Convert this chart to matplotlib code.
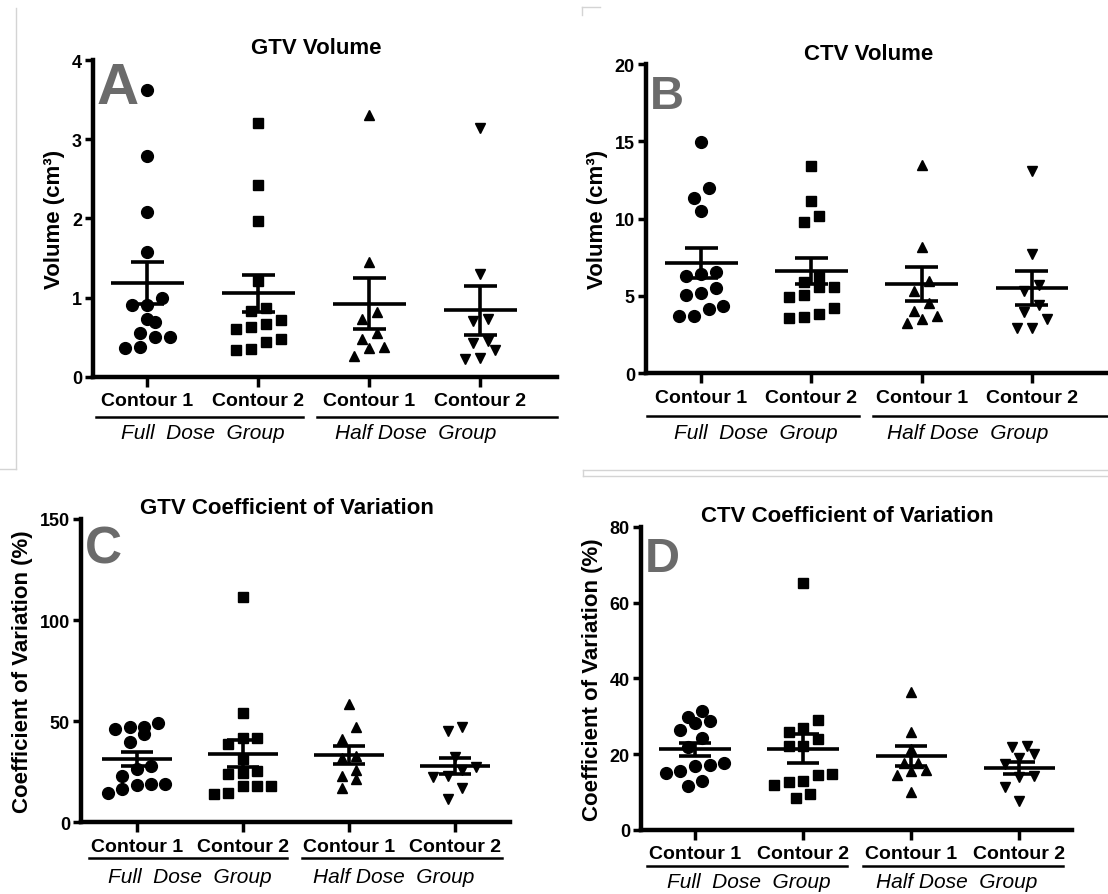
import numpy as np
import matplotlib
matplotlib.use('Agg')
import matplotlib.pyplot as plt
from matplotlib.lines import Line2D
from matplotlib.transforms import blended_transform_factory

plt.rcParams['font.family'] = ['Liberation Sans', 'DejaVu Sans']

W, H = 1108, 895

contours = ['Contour 1', 'Contour 2', 'Contour 1', 'Contour 2']
groups = ['Full  Dose  Group', 'Half Dose  Group']
markers = ['o', 's', '^', 'v']

# GTV volume (cm3): full dose contour 1 / 2, half dose contour 1 / 2
gtv_vol_full_c1 = [3.62, 2.79, 2.08, 1.57, 0.99, 0.91, 0.91, 0.73, 0.69, 0.55, 0.50, 0.50, 0.36, 0.37]
gtv_vol_full_c2 = [3.21, 2.42, 1.97, 1.21, 0.83, 0.87, 0.72, 0.63, 0.60, 0.66, 0.44, 0.47, 0.34, 0.35]
gtv_vol_half_c1 = [3.30, 1.45, 0.82, 0.73, 0.55, 0.47, 0.38, 0.36, 0.26]
gtv_vol_half_c2 = [3.14, 1.30, 0.70, 0.73, 0.45, 0.43, 0.34, 0.22, 0.23]

# CTV volume (cm3)
ctv_vol_full_c1 = [14.94, 11.96, 11.31, 10.47, 6.57, 6.27, 6.42, 5.17, 5.06, 5.50, 4.16, 4.38, 3.73, 3.73]
ctv_vol_full_c2 = [13.43, 11.12, 10.19, 9.81, 6.21, 5.56, 5.09, 4.91, 5.56, 5.88, 4.20, 3.84, 3.56, 3.62]
ctv_vol_half_c1 = [13.49, 8.15, 5.99, 5.34, 4.55, 4.05, 3.69, 3.51, 3.25]
ctv_vol_half_c2 = [13.10, 7.72, 5.34, 5.71, 4.42, 3.99, 3.51, 2.91, 2.91]

# GTV coefficient of variation (%)
gtv_cv_full_c1 = [47.0, 46.2, 49.0, 43.7, 47.0, 39.9, 26.4, 28.0, 22.7, 19.0, 18.6, 16.5, 19.0, 14.3]
gtv_cv_full_c2 = [111.3, 54.1, 41.5, 41.5, 38.7, 31.3, 24.4, 23.9, 25.5, 18.1, 17.8, 18.1, 14.0, 14.3]
gtv_cv_half_c1 = [58.5, 47.0, 41.2, 33.0, 31.6, 25.9, 23.1, 21.4, 17.0]
gtv_cv_half_c2 = [47.0, 45.3, 32.1, 27.2, 25.9, 23.1, 22.3, 16.8, 11.5]

# CTV coefficient of variation (%)
ctv_cv_full_c1 = [31.3, 28.7, 28.2, 29.7, 26.4, 24.2, 21.8, 17.7, 17.2, 17.0, 15.6, 15.0, 13.0, 11.7]
ctv_cv_full_c2 = [65.1, 29.0, 27.0, 25.9, 24.0, 22.1, 22.2, 14.5, 14.8, 13.0, 12.0, 12.6, 9.5, 8.4]
ctv_cv_half_c1 = [36.5, 25.9, 21.4, 17.8, 17.8, 15.6, 15.9, 14.5, 9.9]
ctv_cv_half_c2 = [21.8, 22.2, 20.0, 18.9, 17.4, 14.3, 13.9, 11.3, 7.7]

panels = [
    dict(letter='A', title='GTV Volume', ylabel='Volume (cm³)', ylim=(0, 4), yticks=[0, 1, 2, 3, 4],
         data=[gtv_vol_full_c1, gtv_vol_full_c2, gtv_vol_half_c1, gtv_vol_half_c2],
         box=(93, 61, 557, 377.7), xlim=(-0.49, 3.69), lsize=42, ltop=62,
         lines=[(-0.46, 1.40), (1.53, 3.69)], off=(27, 40, 56), title_y=49),
    dict(letter='B', title='CTV Volume', ylabel='Volume (cm³)', ylim=(0, 20), yticks=[0, 5, 10, 15, 20],
         data=[ctv_vol_full_c1, ctv_vol_full_c2, ctv_vol_half_c1, ctv_vol_half_c2],
         box=(646, 65, 1108, 374.3), xlim=(-0.50, 3.69), lsize=34, ltop=75,
         lines=[(-0.49, 1.43), (1.56, 3.69)], off=(26, 43, 59), title_y=55),
    dict(letter='C', title='GTV Coefficient of Variation', ylabel='Coefficient of Variation (%)',
         ylim=(0, 150), yticks=[0, 50, 100, 150],
         data=[gtv_cv_full_c1, gtv_cv_full_c2, gtv_cv_half_c1, gtv_cv_half_c2],
         box=(81, 520, 510, 823.3), xlim=(-0.525, 3.52), lsize=37, ltop=525,
         lines=[(-0.45, 1.42), (1.56, 3.44)], off=(27, 36, 54), title_y=509),
    dict(letter='D', title='CTV Coefficient of Variation', ylabel='Coefficient of Variation (%)',
         ylim=(0, 80), yticks=[0, 20, 40, 60, 80],
         data=[ctv_cv_full_c1, ctv_cv_full_c2, ctv_cv_half_c1, ctv_cv_half_c2],
         box=(641, 527.7, 1071.7, 831), xlim=(-0.50, 3.485), lsize=35, ltop=537,
         lines=[(-0.44, 1.41), (1.55, 3.40)], off=(26, 36, 52), title_y=517),
]


def swarm_offsets(vals, px_per_unit, diam_px=12, step=0.135):
    # spread points that sit at nearly the same height side by side
    vals = np.asarray(vals, dtype=float)
    offs = np.zeros(len(vals))
    row = []

    def flush(row):
        m = len(row)
        for j, idx in enumerate(row):
            offs[idx] = (j - (m - 1) / 2) * step

    for idx in np.argsort(vals):
        if row and (vals[idx] - vals[row[0]]) * px_per_unit >= diam_px:
            flush(row)
            row = []
        row.append(idx)
    flush(row)
    return offs


fig = plt.figure(figsize=(W / 100, H / 100), dpi=100)

for p in panels:
    x0, y0, x1, y1 = p['box']
    ax = fig.add_axes([x0 / W, 1 - y1 / H, (x1 - x0) / W, (y1 - y0) / H])
    ax_h = y1 - y0
    px_per_unit = ax_h / (p['ylim'][1] - p['ylim'][0])

    for i, vals in enumerate(p['data']):
        vals = np.asarray(vals)
        xs = i + swarm_offsets(vals, px_per_unit)
        ms = 8.5 if markers[i] == 'o' else 7.5
        ax.plot(xs, vals, linestyle='none', marker=markers[i], color='black', ms=ms, clip_on=False, zorder=3)
        mean = vals.mean()
        sem = vals.std(ddof=1) / np.sqrt(len(vals))
        ax.hlines(mean, i - 0.33, i + 0.33, color='black', lw=2.6, zorder=4)
        ax.hlines([mean - sem, mean + sem], i - 0.15, i + 0.15, color='black', lw=2.6, zorder=4)
        ax.vlines(i, mean - sem, mean + sem, color='black', lw=2.6, zorder=4)

    ax.set_xlim(*p['xlim'])
    ax.set_ylim(*p['ylim'])
    ax.set_yticks(p['yticks'])
    ax.set_yticklabels([str(t) for t in p['yticks']], fontsize=13, fontweight='bold')
    ax.set_xticks(range(4))
    ax.set_xticklabels(contours, fontsize=14, fontweight='bold')
    ax.tick_params(axis='y', length=6, width=2.5, pad=2)
    ax.tick_params(axis='x', length=7, width=2.5, pad=4)
    for s in ['top', 'right']:
        ax.spines[s].set_visible(False)
    for s in ['left', 'bottom']:
        ax.spines[s].set_linewidth(3.2)
    ax.set_ylabel(p['ylabel'], fontsize=16, fontweight='bold', labelpad=5)

    # group underline and italic group names
    trans = blended_transform_factory(ax.transData, ax.transAxes)
    _, line_off, grp_off = p['off']
    for (a, b), name, cx in zip(p['lines'], groups, [0.5, 2.42]):
        ax.add_line(Line2D([a, b], [-line_off / ax_h] * 2, transform=trans, color='black',
                           lw=1.8, clip_on=False))
        ax.text(cx, -grp_off / ax_h, name, transform=trans, ha='center', va='center',
                fontsize=15, style='italic')

    fig.text((x0 + x1) / 2 / W - 0.008, 1 - p['title_y'] / H, p['title'], ha='center', va='center',
             fontsize=16, fontweight='bold')
    fig.text((x0 + 4) / W, 1 - p['ltop'] / H, p['letter'], ha='left', va='top',
             fontsize=p['lsize'], fontweight='bold', color='#6b6b6b')

# faint frames left over from the source screenshots
frame = [((16, 9), (16, 470)), ((0, 470), (16, 470)),
         ((582, 8), (582, 16)), ((582, 8), (600, 8)),
         ((583, 471), (1108, 471)), ((583, 477), (1108, 477)), ((583, 471), (583, 477))]
for (xa, ya), (xb, yb) in frame:
    fig.add_artist(Line2D([xa / W, xb / W], [1 - ya / H, 1 - yb / H], transform=fig.transFigure,
                          color='#d4d4d4', lw=1))

fig.savefig('out.png', dpi=100)
